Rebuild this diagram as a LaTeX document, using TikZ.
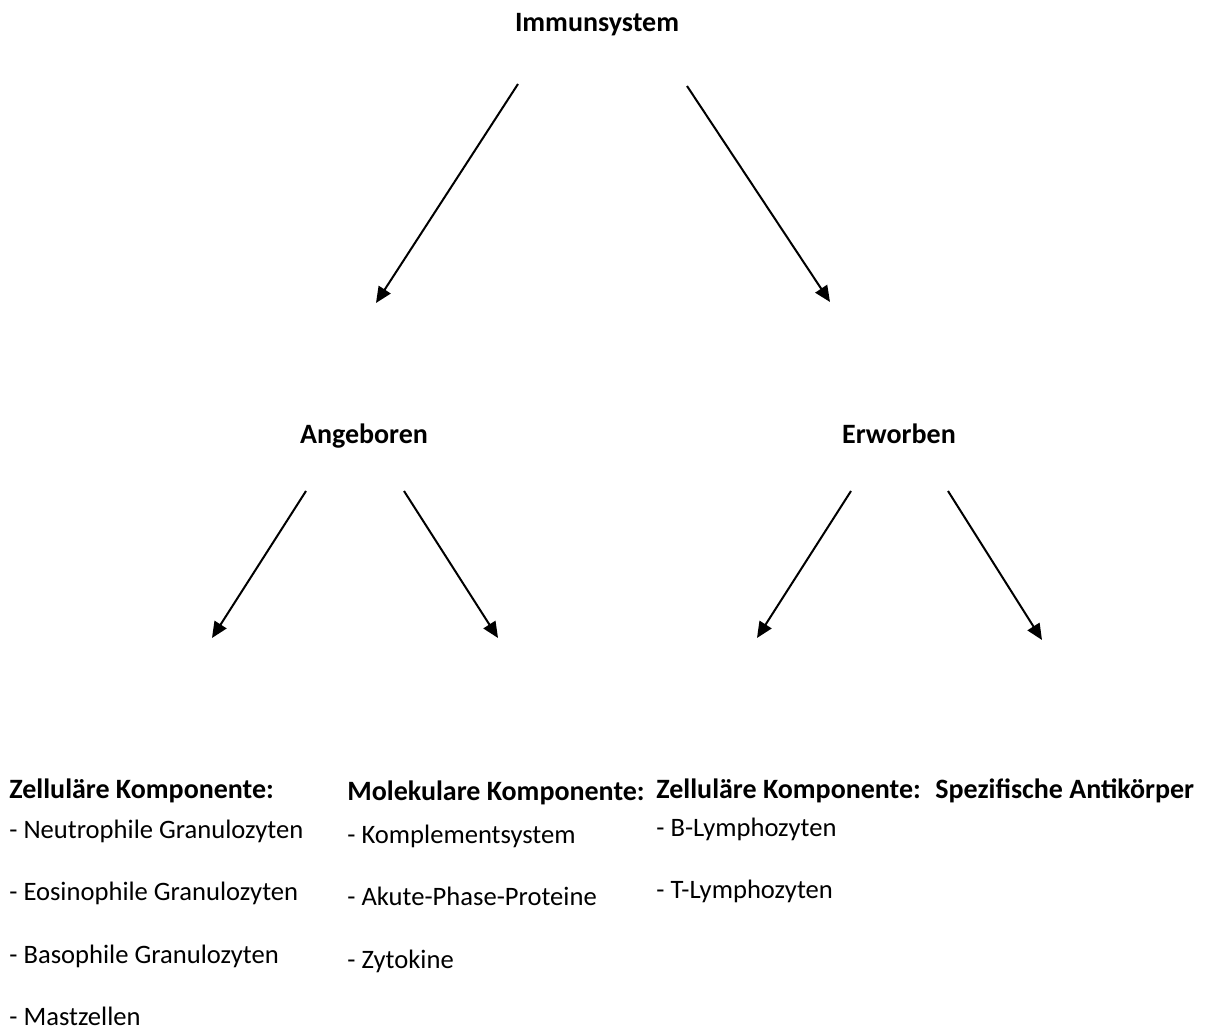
\documentclass[tikz,border=0pt]{standalone}
\usepackage{fontspec}
\setmainfont{Carlito}
\usepackage{tikz}
\usetikzlibrary{arrows.meta}

\tikzset{
  kopf/.style={inner sep=0pt, anchor=base, font=\fontsize{14}{17}\selectfont\bfseries},
  spalte/.style={inner sep=0pt, anchor=base west, font=\fontsize{14}{17}\selectfont\bfseries},
  eintrag/.style={inner sep=0pt, anchor=base west},
  pfeil/.style={line width=1pt, -{Triangle[length=8pt,width=7pt]}}
}

\begin{document}
\begin{tikzpicture}[x=0.5pt, y=-0.5pt]
  \fontsize{13.3}{16}\selectfont
  \useasboundingbox (0,0) rectangle (1206,1032);

  % Ebenen
  \node[kopf] (imm) at (597,32) {Immunsystem};
  \node[kopf] (ang) at (364,444) {Angeboren};
  \node[kopf] (erw) at (899,444) {Erworben};

  % Spalten
  \node[spalte] (zk1) at (9,798) {Zelluläre Komponente:};
  \node[spalte] (mk) at (347,800) {Molekulare Komponente:};
  \node[spalte] (zk2) at (656,798) {Zelluläre Komponente:};
  \node[spalte] (ak) at (935,798) {Spezifische Antikörper};

  \foreach \t [count=\i] in {Neutrophile Granulozyten, Eosinophile Granulozyten,
                             Basophile Granulozyten, Mastzellen} {
    \node[eintrag] (za\i) at (9,{838+62.5*(\i-1)}) {- \t};
  }
  \foreach \t [count=\i] in {Komplementsystem, Akute-Phase-Proteine, Zytokine} {
    \node[eintrag] (mb\i) at (347,{843+62.5*(\i-1)}) {- \t};
  }
  \foreach \t [count=\i] in {B-Lymphozyten, T-Lymphozyten} {
    \node[eintrag] (zc\i) at (656,{836+62.5*(\i-1)}) {- \t};
  }

  % Pfeile
  \coordinate (imm-l) at (518,84);  \coordinate (ang-o) at (376,303);
  \coordinate (imm-r) at (687,86);  \coordinate (erw-o) at (830,302);
  \coordinate (ang-l) at (306,491); \coordinate (zk1-o) at (212,638);
  \coordinate (ang-r) at (404,491); \coordinate (mk-o) at (498,638);
  \coordinate (erw-l) at (851,491); \coordinate (zk2-o) at (757,638);
  \coordinate (erw-r) at (948,491); \coordinate (ak-o) at (1042,640);
  \foreach \s/\e in {imm-l/ang-o, imm-r/erw-o, ang-l/zk1-o,
                     ang-r/mk-o, erw-l/zk2-o, erw-r/ak-o} {
    \draw[pfeil] (\s) -- (\e);
  }
\end{tikzpicture}
\end{document}
